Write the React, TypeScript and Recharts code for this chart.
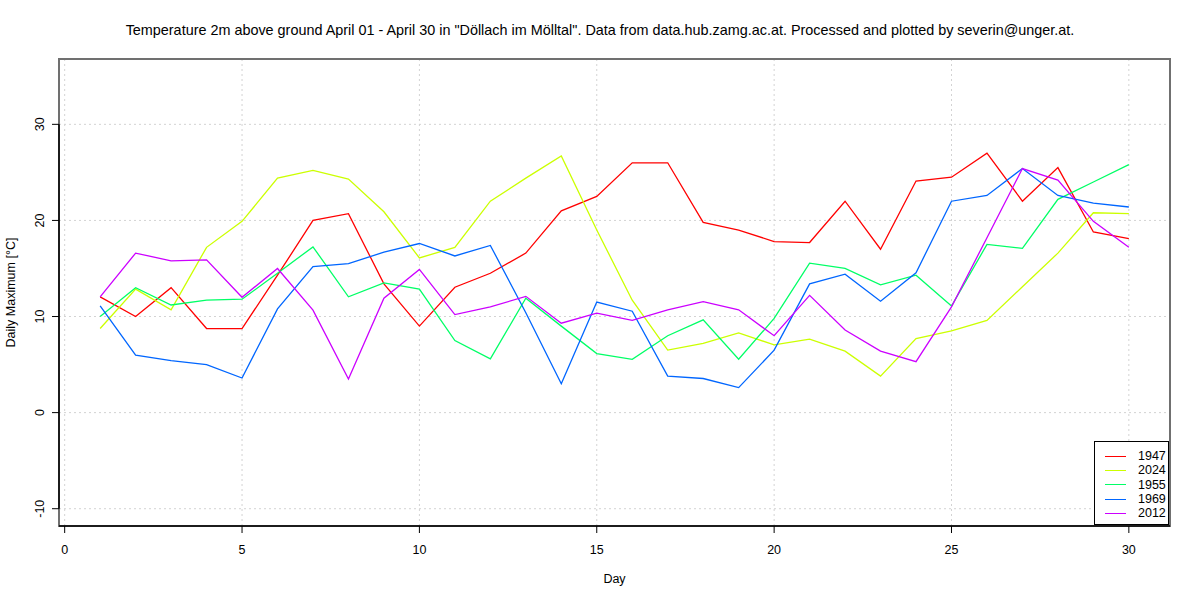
import React from 'react'
import {
  LineChart, Line, XAxis, YAxis, CartesianGrid, ReferenceArea, ReferenceLine, Legend,
} from 'recharts'

const days = Array.from({ length: 30 }, (_, i) => i + 1)

const t1947 = [12.05, 10.0, 13.0, 8.75, 8.75, 14.3, 20.0, 20.7, 13.4, 9.0, 13.05, 14.5, 16.6, 21.0, 22.5, 26.0, 26.0, 19.8, 19.0, 17.8, 17.7, 22.0, 17.0, 24.1, 24.5, 27.0, 22.0, 25.5, 18.8, 18.1]
const t2024 = [8.75, 12.85, 10.7, 17.2, 19.9, 24.4, 25.2, 24.3, 20.9, 16.1, 17.2, 22.0, 24.4, 26.7, 19.0, 11.7, 6.5, 7.2, 8.3, 7.05, 7.65, 6.4, 3.8, 7.7, 8.5, 9.6, 13.1, 16.6, 20.8, 20.7]
const t1955 = [10.0, 13.0, 11.2, 11.7, 11.8, 14.5, 17.25, 12.05, 13.5, 12.85, 7.5, 5.6, 11.9, 9.0, 6.15, 5.55, 8.0, 9.65, 5.55, 9.8, 15.55, 15.0, 13.3, 14.3, 11.1, 17.5, 17.1, 22.2, 24.0, 25.8]
const t1969 = [11.1, 5.97, 5.4, 5.0, 3.6, 10.8, 15.2, 15.5, 16.7, 17.6, 16.3, 17.4, 10.4, 3.0, 11.5, 10.55, 3.8, 3.55, 2.6, 6.5, 13.4, 14.4, 11.6, 14.55, 22.0, 22.6, 25.4, 22.6, 21.8, 21.4]
const t2012 = [12.05, 16.6, 15.8, 15.9, 12.0, 15.0, 10.66, 3.5, 11.9, 14.9, 10.2, 11.0, 12.1, 9.3, 10.35, 9.6, 10.7, 11.55, 10.7, 8.0, 12.2, 8.6, 6.4, 5.3, 11.0, 18.2, 25.4, 24.2, 19.9, 17.2]

const years = ['1947', '2024', '1955', '1969', '2012']
const colors = ['#FF0000', '#CCFF00', '#00FF66', '#0066FF', '#CC00FF']
const seriesValues = [t1947, t2024, t1955, t1969, t2012]

const xTicks = [0, 5, 10, 15, 20, 25, 30]
const yTicks = [-10, 0, 10, 20, 30]
const xDomain: [number, number] = [-0.16, 31.16]
const yDomain: [number, number] = [-11.8, 36.8]

const title = 'Temperature 2m above ground April 01 - April 30 in "Döllach im Mölltal". Data from data.hub.zamg.ac.at. Processed and plotted by severin@unger.at.'

const data = days.map((d, i) => {
  const row: Record<string, number> = { day: d }
  years.forEach((y, k) => { row[y] = seriesValues[k][i] })
  return row
})

const FONT = '"Liberation Sans", Arial, Helvetica, sans-serif'

const YTick = (props: any) => {
  const { x, y, payload } = props
  const tx = x - 5.5
  return (
    <text x={tx} y={y} transform={`rotate(-90 ${tx} ${y})`} textAnchor="middle"
      fontSize={12.5} fontFamily={FONT} fill="#000">
      {payload.value}
    </text>
  )
}

const LegendBox = () => (
  <div style={{
    width: 75, height: 84, border: '1px solid #000', background: '#fff',
    boxSizing: 'border-box', paddingTop: 7, fontFamily: FONT, fontSize: 12.5,
  }}>
    {years.map((y, k) => (
      <div key={y} style={{ display: 'flex', alignItems: 'center', height: 14.3 }}>
        <div style={{ marginLeft: 10, width: 21, height: 0, borderTop: `1.5px solid ${colors[k]}` }} />
        <span style={{ marginLeft: 12, lineHeight: '14px' }}>{y}</span>
      </div>
    ))}
  </div>
)

export default function App() {
  return (
    <div style={{ position: 'absolute', left: 0, top: 0, width: 1200, height: 600, background: '#fff' }}>
      <div style={{
        position: 'absolute', left: 0, width: 1200, top: 22, textAlign: 'center',
        fontFamily: FONT, fontSize: 14.4, color: '#000', whiteSpace: 'nowrap',
      }}>{title}</div>
      <LineChart width={1200} height={600} data={data}
        margin={{ top: 59, right: 30, bottom: 4, left: 0 }}>
        <CartesianGrid stroke="#d3d3d3" strokeDasharray="2 3" />
        <XAxis dataKey="day" type="number" domain={xDomain} ticks={xTicks} allowDataOverflow
          height={70} axisLine={false} tickLine={{ stroke: '#000' }} tickSize={7} tickMargin={12}
          tick={{ fontSize: 12.5, fontFamily: FONT, fill: '#000' }}
          label={{ value: 'Day', position: 'insideBottom', offset: 13, fontSize: 12.5, fontFamily: FONT, fill: '#000' }} />
        <YAxis type="number" domain={yDomain} ticks={yTicks} allowDataOverflow width={59}
          axisLine={false} tickLine={{ stroke: '#000' }} tickSize={7} tickMargin={2} tick={<YTick />}
          label={{ value: 'Daily Maximum [°C]', angle: -90, position: 'insideLeft', offset: 11, fontSize: 12.5, fontFamily: FONT, fill: '#000', style: { textAnchor: 'middle' } }} />
        <ReferenceArea x1={xDomain[0]} x2={xDomain[1]} y1={yDomain[0]} y2={yDomain[1]}
          fill="none" stroke="#707070" strokeWidth={2} fillOpacity={0} />
        <ReferenceLine segment={[{ x: xDomain[0], y: yDomain[0] }, { x: xDomain[1], y: yDomain[0] }]} stroke="#000" strokeWidth={1.5} />
        <ReferenceLine segment={[{ x: xDomain[0], y: -10 }, { x: xDomain[0], y: 30 }]} stroke="#000" strokeWidth={1.5} />
        {years.map((y, k) => (
          <Line key={y} dataKey={y} type="linear" stroke={colors[k]} strokeWidth={1.3}
            dot={false} activeDot={false} isAnimationActive={false} />
        ))}
        <Legend layout="vertical" align="center" verticalAlign="middle" content={<LegendBox />}
          wrapperStyle={{ position: 'absolute', left: 1094, top: 441, width: 75, height: 84 }} />
      </LineChart>
    </div>
  )
}
